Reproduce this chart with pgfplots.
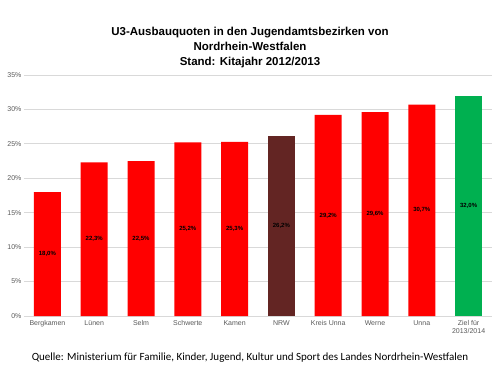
\documentclass[border=0pt]{standalone}
\usepackage{pgfplots}
\pgfplotsset{compat=1.18}
\usepackage{pgfplotstable}
\usepackage{fontspec}
\setmainfont{Liberation Sans}
\newfontfamily\carlito{Carlito}
\definecolor{barred}{HTML}{FF0000}
\definecolor{nrwbrown}{HTML}{632523}
\definecolor{zielgreen}{HTML}{00B050}
\definecolor{gridgray}{HTML}{D9D9D9}
\definecolor{ticktext}{HTML}{595959}
\pgfplotstableread{
x v
0 18.0
1 22.3
2 22.5
3 25.2
4 25.3
5 26.2
6 29.2
7 29.6
8 30.7
9 32.0
}\alldata
\pgfplotstableread{
x v
0 18.0
1 22.3
2 22.5
3 25.2
4 25.3
6 29.2
7 29.6
8 30.7
}\reddata
\pgfplotstableread{
x v
5 26.2
}\nrwdata
\pgfplotstableread{
x v
9 32.0
}\zieldata
\begin{document}
\begin{tikzpicture}[x=1pt,y=1pt]
\path[use as bounding box] (-24,-59) rectangle (476,316);
\begin{axis}[
  at={(0,0)}, anchor=south west,
  scale only axis, width=468pt, height=241pt,
  xmin=-0.5, xmax=9.5, ymin=0, ymax=35,
  xtick={0,...,9},
  xticklabels={Bergkamen,Lünen,Selm,Schwerte,Kamen,NRW,Kreis Unna,Werne,Unna,{Ziel für\\2013/2014}},
  ytick={0,5,...,35},
  yticklabel={\pgfmathprintnumber{\tick}\%},
  /pgf/number format/assume math mode=true,
  ymajorgrids, grid style={gridgray, line width=0.8pt},
  axis x line*=bottom, axis y line*=left,
  x axis line style={gridgray, line width=0.8pt, -},
  y axis line style={draw=none},
  major tick length=0pt,
  tick label style={font=\fontsize{7}{8}\selectfont, text=ticktext},
  xticklabel style={align=center, anchor=north, yshift=-1pt},
  yticklabel style={anchor=east, xshift=1pt},
  clip=false,
]
\addplot[ybar, bar width=27pt, fill=barred, draw=none] table[x=x,y=v] {\reddata};
\addplot[ybar, bar width=27pt, fill=nrwbrown, draw=none] table[x=x,y=v] {\nrwdata};
\addplot[ybar, bar width=27pt, fill=zielgreen, draw=none] table[x=x,y=v] {\zieldata};
\addplot[draw=none, mark=none, point meta=explicit,
  nodes near coords={\pgfmathprintnumber[fixed,fixed zerofill,precision=1,use comma]{\pgfplotspointmeta}\%},
  every node near coord/.append style={anchor=center, font=\bfseries\fontsize{6}{7}\selectfont, text=black, inner sep=0pt}]
  table[x=x, y expr=\thisrow{v}/2, meta=v] {\alldata};
\end{axis}
\node[font=\bfseries\fontsize{11.5}{15}\selectfont, align=center] at (226,268) {U3-Ausbauquoten in den Jugendamtsbezirken von\\Nordrhein-Westfalen\\Stand: Kitajahr 2012/2013};
\node[font=\carlito\fontsize{11}{12}\selectfont] at (226,-42) {Quelle: Ministerium für Familie, Kinder, Jugend, Kultur und Sport des Landes Nordrhein-Westfalen};
\end{tikzpicture}
\end{document}
